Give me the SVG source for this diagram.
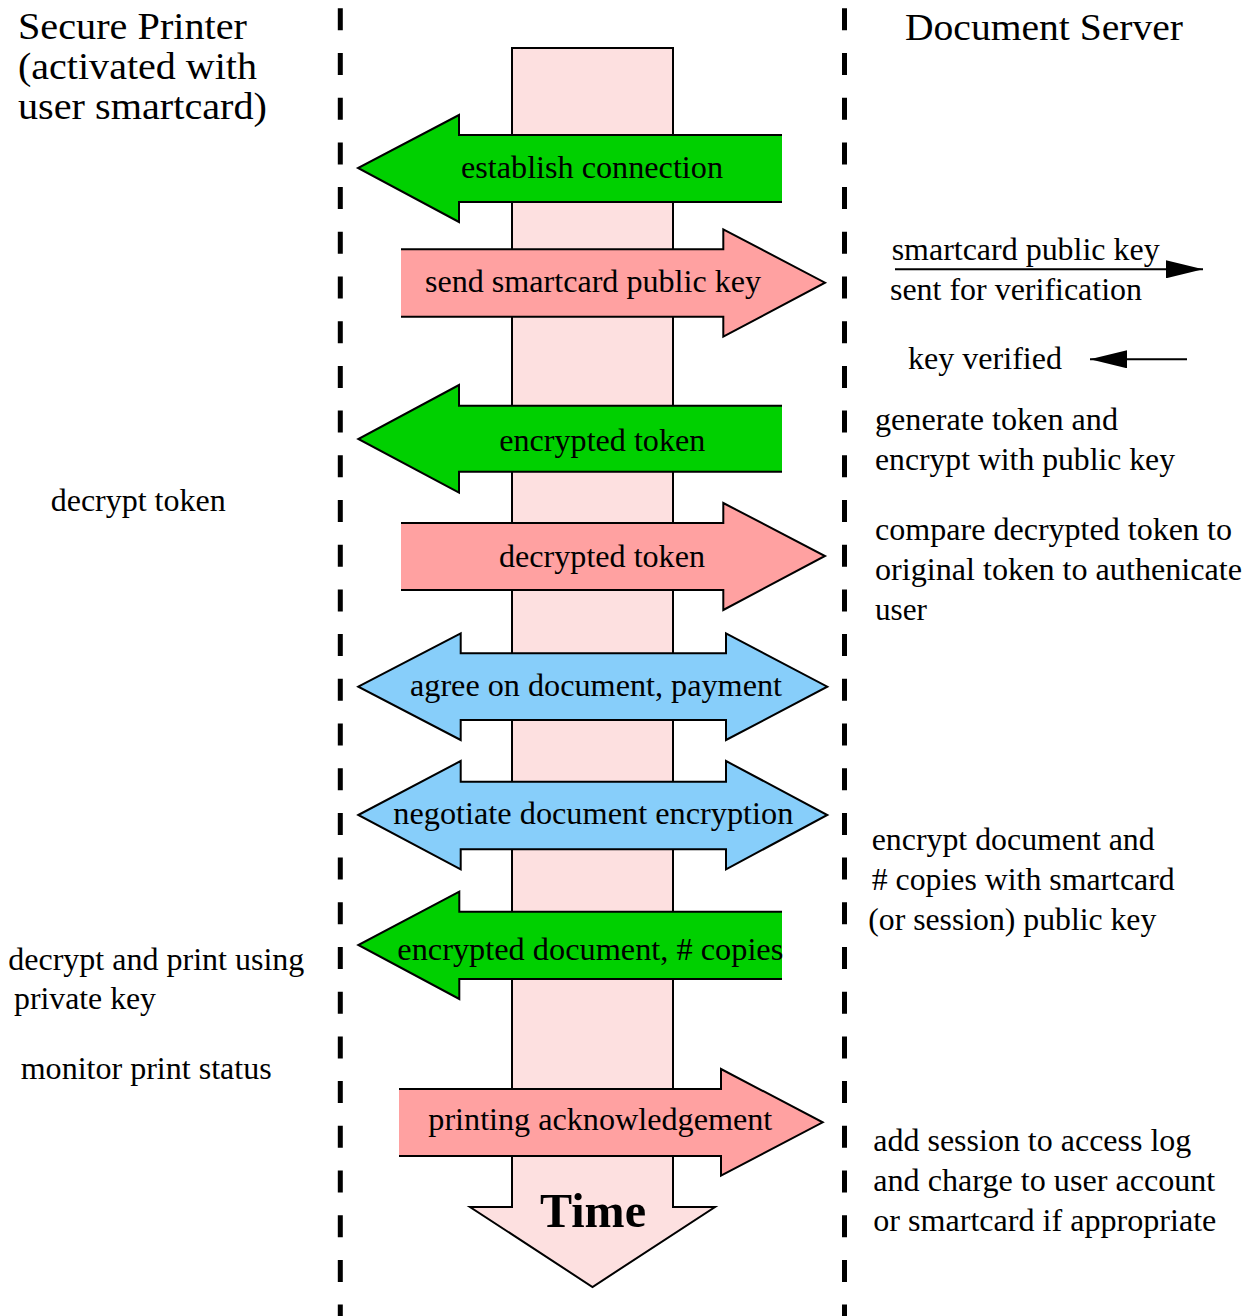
<svg xmlns="http://www.w3.org/2000/svg" width="1253" height="1316" viewBox="0 0 1253 1316">
<style>
.t{font-family:"Liberation Serif","Times New Roman",serif;font-size:31px;fill:#000}
.h{font-family:"Liberation Serif","Times New Roman",serif;font-size:37px;fill:#000}
.tb{font-family:"Liberation Serif","Times New Roman",serif;font-size:48px;font-weight:bold;fill:#000}
.sep{stroke:#000;stroke-width:5;stroke-dasharray:22 22.7;fill:none}
.ol{fill:none;stroke:#000;stroke-width:2;stroke-linejoin:miter}
.g{fill:#00d000}
.p{fill:#ffa1a1}
.b{fill:#87cefa;stroke:#000;stroke-width:2}
.c{stroke:#000;stroke-width:2;fill:none}
</style>
<defs>
<marker id="ah" viewBox="0 0 37 18" refX="37" refY="9" markerWidth="37" markerHeight="18" markerUnits="userSpaceOnUse" orient="auto">
<path d="M0,0 L37,9 L0,18 z" fill="#000"/>
</marker>
</defs>
<rect width="1253" height="1316" fill="#fff"/>

<g id="separators">
<line class="sep" x1="340.3" y1="8.3" x2="340.3" y2="1316"/>
<line class="sep" x1="844.5" y1="8.3" x2="844.5" y2="1316"/>
</g>

<g id="time">
<polygon points="512,48 673,48 673,1207 715,1207 592.5,1287 470,1207 512,1207" fill="#fde0e0" stroke="#000" stroke-width="2"/>
<text class="tb" x="540" y="1227" textLength="106" lengthAdjust="spacingAndGlyphs">Time</text>
</g>

<g id="printer-label">
<text class="h" x="18" y="38.5" textLength="229" lengthAdjust="spacingAndGlyphs">Secure Printer</text>
<text class="h" x="18" y="78.5" textLength="239" lengthAdjust="spacingAndGlyphs">(activated with</text>
<text class="h" x="18" y="118.5" textLength="249" lengthAdjust="spacingAndGlyphs">user smartcard)</text>
</g>
<g id="server-label">
<text class="h" x="905" y="40" textLength="278" lengthAdjust="spacingAndGlyphs">Document Server</text>
</g>

<g id="establish-connection">
<polygon class="g" points="782,135 459,135 459,115 358,168 459,222 459,202 782,202"/>
<polyline class="ol" points="782,135 459,135 459,115 358,168 459,222 459,202 782,202"/>
<text class="t" x="461" y="177.5" textLength="262" lengthAdjust="spacingAndGlyphs">establish connection</text>
</g>

<g id="send-key">
<polygon class="p" points="401,249.3 723.3,249.3 723.3,229.3 825,282.7 723.3,336.7 723.3,316.7 401,316.7"/>
<polyline class="ol" points="401,249.3 723.3,249.3 723.3,229.3 825,282.7 723.3,336.7 723.3,316.7 401,316.7"/>
<text class="t" x="425" y="291.7" textLength="336" lengthAdjust="spacingAndGlyphs">send smartcard public key</text>
</g>

<g id="encrypted-token">
<polygon class="g" points="782,405.7 459,405.7 459,385 358.3,439 459,492.7 459,471.7 782,471.7"/>
<polyline class="ol" points="782,405.7 459,405.7 459,385 358.3,439 459,492.7 459,471.7 782,471.7"/>
<text class="t" x="499.3" y="450.5" textLength="206" lengthAdjust="spacingAndGlyphs">encrypted token</text>
</g>

<g id="decrypted-token">
<polygon class="p" points="401,523 723.3,523 723.3,503 825,556 723.3,610 723.3,590 401,590"/>
<polyline class="ol" points="401,523 723.3,523 723.3,503 825,556 723.3,610 723.3,590 401,590"/>
<text class="t" x="499" y="567" textLength="206" lengthAdjust="spacingAndGlyphs">decrypted token</text>
</g>

<g id="agree">
<polygon class="b" points="358.3,686.7 460.7,633.3 460.7,653.3 726,653.3 726,633.3 827.3,686.7 726,740 726,720 460.7,720 460.7,740"/>
<text class="t" x="410" y="695.5" textLength="372" lengthAdjust="spacingAndGlyphs">agree on document, payment</text>
</g>

<g id="negotiate">
<polygon class="b" points="358.3,815 460.7,761 460.7,781.7 726,781.7 726,761 827.3,815 726,869.3 726,849.3 460.7,849.3 460.7,869.3"/>
<text class="t" x="393.3" y="823.5" textLength="400" lengthAdjust="spacingAndGlyphs">negotiate document encryption</text>
</g>

<g id="encrypted-document">
<polygon class="g" points="782,911.7 459.3,911.7 459.3,891.7 358.3,945 459.3,999 459.3,979 782,979"/>
<polyline class="ol" points="782,911.7 459.3,911.7 459.3,891.7 358.3,945 459.3,999 459.3,979 782,979"/>
<text class="t" x="397.3" y="959.5" textLength="386" lengthAdjust="spacingAndGlyphs">encrypted document, # copies</text>
</g>

<g id="printing-ack">
<polygon class="p" points="399,1089 721,1089 721,1069 822.7,1122.3 721,1175.7 721,1156 399,1156"/>
<polyline class="ol" points="399,1089 721,1089 721,1069 822.7,1122.3 721,1175.7 721,1156 399,1156"/>
<text class="t" x="428.3" y="1129.5" textLength="344" lengthAdjust="spacingAndGlyphs">printing acknowledgement</text>
</g>

<g id="printer-notes">
<text class="t" x="50.7" y="511" textLength="175" lengthAdjust="spacingAndGlyphs">decrypt token</text>
<text class="t" x="8.3" y="970" textLength="296" lengthAdjust="spacingAndGlyphs">decrypt and print using</text>
<text class="t" x="14" y="1009" textLength="142" lengthAdjust="spacingAndGlyphs">private key</text>
<text class="t" x="20.7" y="1079" textLength="251" lengthAdjust="spacingAndGlyphs">monitor print status</text>
</g>

<g id="server-notes">
<text class="t" x="891.7" y="259.5" textLength="268" lengthAdjust="spacingAndGlyphs">smartcard public key</text>
<text class="t" x="890" y="300" textLength="252" lengthAdjust="spacingAndGlyphs">sent for verification</text>
<text class="t" x="908" y="369" textLength="154" lengthAdjust="spacingAndGlyphs">key verified</text>
<text class="t" x="875" y="430" textLength="243" lengthAdjust="spacingAndGlyphs">generate token and</text>
<text class="t" x="875" y="470" textLength="300" lengthAdjust="spacingAndGlyphs">encrypt with public key</text>
<text class="t" x="875" y="540" textLength="357" lengthAdjust="spacingAndGlyphs">compare decrypted token to</text>
<text class="t" x="875" y="580" textLength="367" lengthAdjust="spacingAndGlyphs">original token to authenicate</text>
<text class="t" x="875" y="619.5" textLength="52" lengthAdjust="spacingAndGlyphs">user</text>
<text class="t" x="871.7" y="850" textLength="283" lengthAdjust="spacingAndGlyphs">encrypt document and</text>
<text class="t" x="871.7" y="890" textLength="303" lengthAdjust="spacingAndGlyphs"># copies with smartcard</text>
<text class="t" x="868.3" y="930" textLength="288" lengthAdjust="spacingAndGlyphs">(or session) public key</text>
<text class="t" x="873.3" y="1151" textLength="318" lengthAdjust="spacingAndGlyphs">add session to access log</text>
<text class="t" x="873.3" y="1191" textLength="342" lengthAdjust="spacingAndGlyphs">and charge to user account</text>
<text class="t" x="873.3" y="1230.5" textLength="343" lengthAdjust="spacingAndGlyphs">or smartcard if appropriate</text>
</g>

<g id="connectors">
<line class="c" x1="895" y1="269.3" x2="1203" y2="269.3" marker-end="url(#ah)"/>
<line class="c" x1="1187" y1="359.3" x2="1090" y2="359.3" marker-end="url(#ah)"/>
</g>
</svg>
